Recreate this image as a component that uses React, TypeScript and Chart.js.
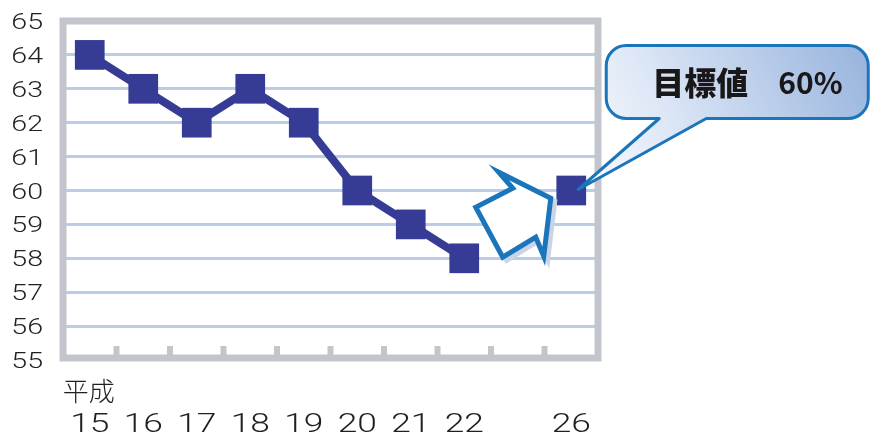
import React, { useEffect, useRef } from "react";
import { Chart, registerables } from "chart.js";

Chart.register(...registerables);

const categories = ["15", "16", "17", "18", "19", "20", "21", "22", "", "26"];
const eraLabel = "平成";
const values: (number | null)[] = [64, 63, 62, 63, 62, 60, 59, 58, null, 60];
const yTicks = [55, 56, 57, 58, 59, 60, 61, 62, 63, 64, 65];
const calloutTitle = "目標値";
const calloutValue = "60%";
const targetIndex = 9;
const targetValue = 60;
const arrowIndex = 8;
const arrowValue = 59.3;

const LINE = "#363B95";
const FRAME = "#C2C5CC";
const GRID = "#B9CDE8";
const BLUE = "#1B75BB";
const TEXT = "#231F20";

const stretchText = (ctx: any, text: string, x: number, y: number, sx: number) => {
  ctx.save();
  ctx.translate(x, y);
  ctx.scale(sx, 1);
  ctx.fillText(text, 0, 0);
  ctx.restore();
};

const decorPlugin = {
  id: "decor",
  beforeDatasetsDraw(chart: any) {
    const { ctx, chartArea: a } = chart;
    const n = categories.length;
    const w = (a.right - a.left) / n;
    ctx.save();
    ctx.fillStyle = FRAME;
    for (let i = 1; i < n; i++) {
      const x = a.left + i * w;
      ctx.fillRect(x - 3, a.bottom - 14, 6, 14);
    }
    ctx.strokeStyle = FRAME;
    ctx.lineWidth = 7;
    ctx.strokeRect(a.left, a.top, a.right - a.left, a.bottom - a.top - 2);
    ctx.restore();
  },
  afterDatasetsDraw(chart: any) {
    const { ctx, chartArea: a } = chart;
    const xs = chart.scales.x;
    const ys = chart.scales.y;

    // tick labels (positions from the scales)
    ctx.save();
    ctx.fillStyle = TEXT;
    ctx.textBaseline = "alphabetic";
    ctx.textAlign = "right";
    ctx.font = '300 22px Roboto';
    yTicks.forEach((v) => {
      stretchText(ctx, String(v), a.left - 20, ys.getPixelForValue(v) + 8, 1.3);
    });
    ctx.textAlign = "center";
    ctx.font = '300 26px Roboto';
    categories.forEach((c, i) => {
      if (c) stretchText(ctx, c, xs.getPixelForValue(i), a.bottom + 72, 1.36);
    });
    ctx.font = '300 26px "Noto Sans CJK JP"';
    ctx.textBaseline = "middle";
    ctx.fillText(eraLabel, xs.getPixelForValue(0) - 1, a.bottom + 31);
    ctx.restore();

    // hollow arrow
    const ax = xs.getPixelForValue(arrowIndex);
    const ay = ys.getPixelForValue(arrowValue);
    const pts = [
      [-42, -7],
      [-15, 43],
      [18, 23],
      [26, 42],
      [33, -16],
      [-19, -42],
      [-5, -26],
    ];
    const drawArrow = (dx: number, dy: number, color: string, fill: boolean) => {
      ctx.beginPath();
      pts.forEach(([px, py], i) => {
        if (i === 0) ctx.moveTo(ax + px + dx, ay + py + dy);
        else ctx.lineTo(ax + px + dx, ay + py + dy);
      });
      ctx.closePath();
      if (fill) {
        ctx.fillStyle = "#FFFFFF";
        ctx.fill();
      }
      ctx.strokeStyle = color;
      ctx.lineWidth = 5;
      ctx.lineJoin = "miter";
      ctx.stroke();
    };
    ctx.save();
    drawArrow(4, 3, "#C9D4E8", false);
    drawArrow(0, 0, BLUE, true);
    ctx.restore();

    // callout
    const px = xs.getPixelForValue(targetIndex);
    const py = ys.getPixelForValue(targetValue);
    const left = px + 35;
    const top = py - 145;
    const bw = 262;
    const bh = 73;
    const r = 20;
    const right = left + bw;
    const bottom = top + bh;
    const t1 = left + 53;
    const t2 = left + 100;
    ctx.save();
    ctx.beginPath();
    ctx.moveTo(left + r, top);
    ctx.lineTo(right - r, top);
    ctx.arcTo(right, top, right, top + r, r);
    ctx.lineTo(right, bottom - r);
    ctx.arcTo(right, bottom, right - r, bottom, r);
    ctx.lineTo(t2, bottom);
    ctx.lineTo(px + 7, py - 1);
    ctx.lineTo(t1, bottom);
    ctx.lineTo(left + r, bottom);
    ctx.arcTo(left, bottom, left, bottom - r, r);
    ctx.lineTo(left, top + r);
    ctx.arcTo(left, top, left + r, top, r);
    ctx.closePath();
    const g = ctx.createLinearGradient(px, py, right, top);
    g.addColorStop(0, "#FFFFFF");
    g.addColorStop(0.35, "#DDE7F6");
    g.addColorStop(1, "#97B3DD");
    ctx.fillStyle = g;
    ctx.fill();
    ctx.strokeStyle = BLUE;
    ctx.lineWidth = 3;
    ctx.lineJoin = "round";
    ctx.stroke();
    ctx.fillStyle = "#1A1718";
    ctx.textBaseline = "middle";
    ctx.textAlign = "left";
    ctx.font = '900 32px "Noto Sans CJK JP"';
    ctx.fillText(calloutTitle, left + 46, top + 37);
    ctx.font = 'bold 30px "Noto Sans CJK JP"';
    ctx.fillText(calloutValue, left + 172, top + 37);
    ctx.restore();
  },
};

export default function App() {
  const ref = useRef<HTMLCanvasElement | null>(null);
  useEffect(() => {
    document.body.style.margin = "0";
    const canvas = ref.current!;
    const chart = new Chart(canvas, {
      type: "line",
      data: {
        labels: categories,
        datasets: [
          {
            data: values,
            borderColor: LINE,
            borderWidth: 8,
            backgroundColor: LINE,
            pointStyle: "rect",
            pointRadius: 21,
            pointBorderWidth: 0,
            pointBackgroundColor: LINE,
            spanGaps: false,
            tension: 0,
          },
        ],
      },
      options: {
        responsive: false,
        animation: false,
        devicePixelRatio: 1,
        layout: { padding: { top: 20, right: 272, left: 0, bottom: 0 } },
        plugins: { legend: { display: false }, tooltip: { enabled: false } },
        scales: {
          x: {
            type: "category",
            offset: true,
            grid: { display: false },
            border: { display: false },
            afterFit: (s: any) => {
              s.height = 75;
            },
            ticks: { display: false },
          },
          y: {
            min: 55,
            max: 65,
            afterFit: (s: any) => {
              s.width = 63;
            },
            afterBuildTicks: (s: any) => {
              s.ticks = yTicks.map((v) => ({ value: v }));
            },
            grid: {
              color: (c: any) =>
                c.tick && (c.tick.value === 55 || c.tick.value === 65) ? "rgba(0,0,0,0)" : GRID,
              lineWidth: 3,
              drawTicks: false,
            },
            border: { display: false },
            ticks: { display: false },
          },
        },
      },
      plugins: [decorPlugin],
    });
    return () => chart.destroy();
  }, []);
  return <canvas ref={ref} width={870} height={435} style={{ display: "block", width: 870, height: 435 }} />;
}
